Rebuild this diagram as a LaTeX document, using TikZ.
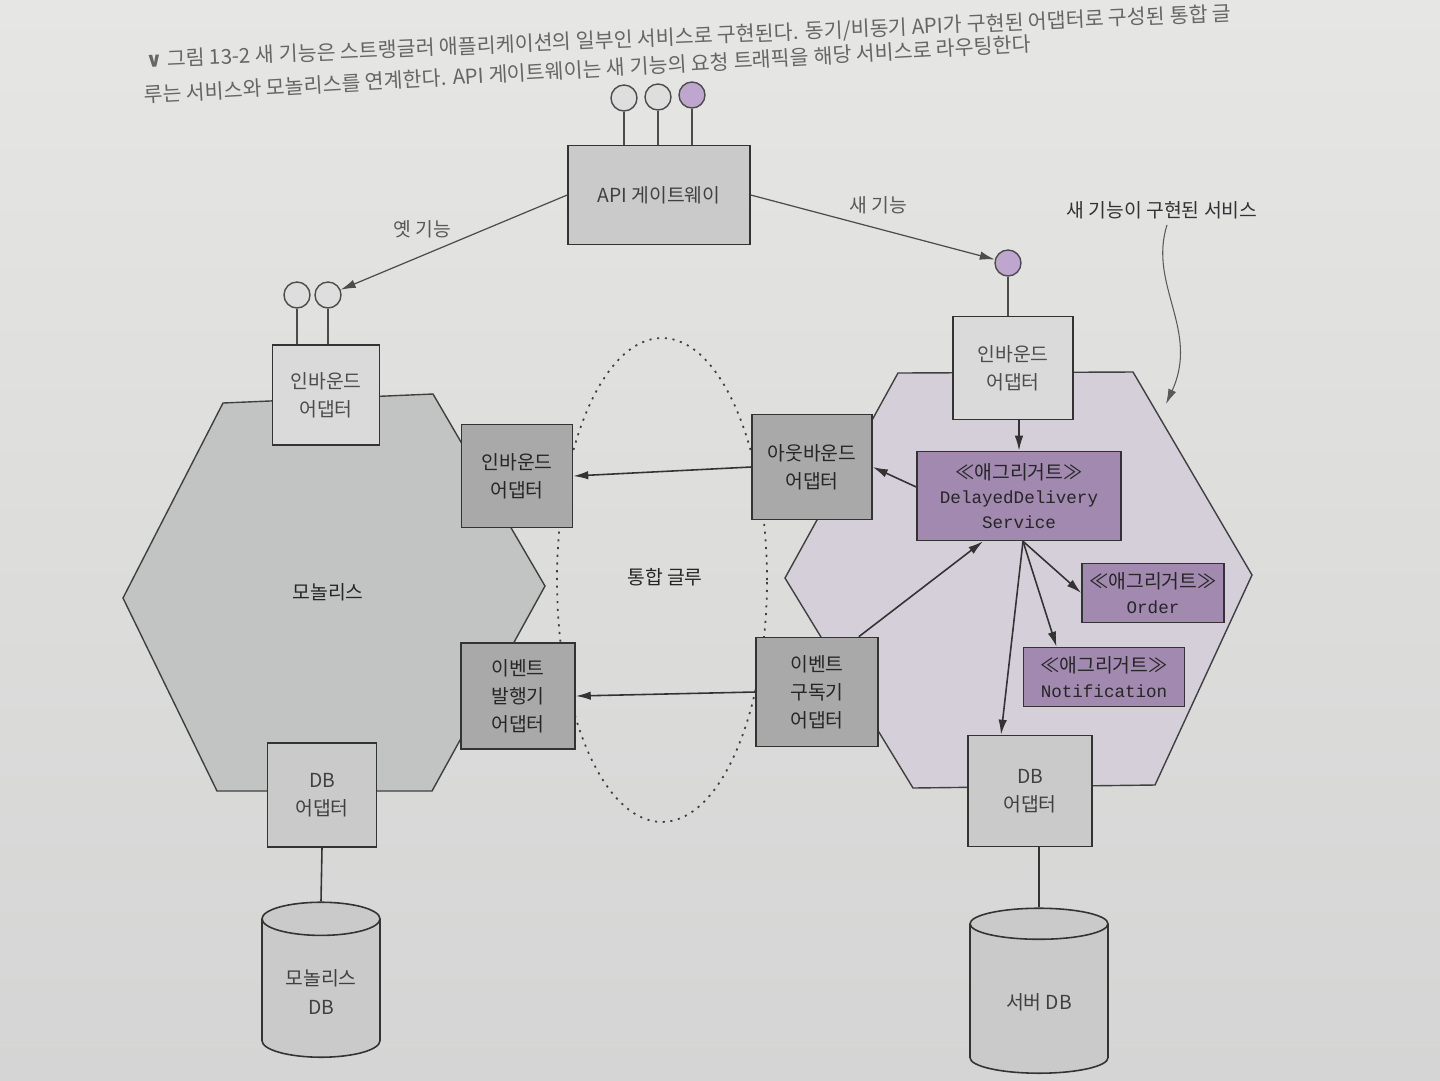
\documentclass[tikz,border=0pt]{standalone}
\usepackage{fontspec}
\setmainfont{Noto Sans CJK KR}
\newfontfamily\monofont{Liberation Mono}
\newfontfamily\symfont{DejaVu Sans}
\usetikzlibrary{arrows.meta,shapes.geometric}
\definecolor{papertop}{HTML}{E6E6E4}
\definecolor{paperbot}{HTML}{D4D5D4}
\definecolor{monofill}{HTML}{C2C4C4}
\definecolor{svcfill}{HTML}{D5CFDA}
\definecolor{boxlite}{HTML}{DADADA}
\definecolor{boxmid}{HTML}{C9CAC9}
\definecolor{adapterdark}{HTML}{A9A9A9}
\definecolor{aggpurple}{HTML}{A189AF}
\definecolor{portlite}{HTML}{DEDEDE}
\definecolor{portpurple}{HTML}{BEA6CE}
\newcommand{\aggtag}{\fontsize{11}{14}\selectfont}

\begin{document}
\begin{tikzpicture}[
    x=0.02cm, y=-0.02cm,
    >={Latex[length=0.3cm,width=0.17cm]},
    every node/.style={font=\fontsize{11}{16}\selectfont, text=black!85},
    box/.style={draw=black!80, line width=0.9pt, align=center, inner sep=2pt},
    litebox/.style={box, fill=boxlite, text=black!70},
    midbox/.style={box, fill=boxmid, text=black!75},
    adapter/.style={box, fill=adapterdark},
    agg/.style={box, fill=aggpurple, font=\fontsize{10}{14}\selectfont},
    port/.style={circle, draw=black!70, line width=0.8pt, minimum size=0.52cm, inner sep=0pt, fill=portlite},
    db/.style={cylinder, shape border rotate=90, draw=black!80, line width=0.9pt, fill=boxmid, aspect=0.4, align=center, text=black!75},
    conn/.style={draw=black!80, line width=0.9pt},
    arr/.style={conn, ->},
    lbl/.style={text=black!65},
    caption/.style={text=black!60, font=\fontsize{11.7}{13}\selectfont}
]
% paper
\fill[top color=papertop, bottom color=paperbot] (0,0) rectangle (1440,1080);
\useasboundingbox (0,0) rectangle (1440,1080);

% caption
\node[caption, anchor=base west, rotate=2.5] (cap1) at (140,68)
    {{\symfont\bfseries ∨} 그림 13-2 새 기능은 스트랭글러 애플리케이션의 일부인 서비스로 구현된다. 동기/비동기 API가 구현된 어댑터로 구성된 통합 글};
\node[caption, anchor=base west, rotate=3.3] (cap2) at (138,103)
    {루는 서비스와 모놀리스를 연계한다. API 게이트웨이는 새 기능의 요청 트래픽을 해당 서비스로 라우팅한다};

% hexagons and glue
\filldraw[fill=monofill, draw=black!75, line width=0.8pt]
    (123,598) -- (223,403) -- (433,394) -- (545,586) -- (432,791) -- (217,791) -- cycle;
\filldraw[fill=svcfill, draw=black!75, line width=0.8pt]
    (785,578) -- (898,373) -- (1133,372) -- (1252,575) -- (1155,785) -- (913,788) -- cycle;
\draw[black!75, line width=1pt, dash pattern=on 1.2pt off 3.2pt] (662,580) ellipse [x radius=2.1cm, y radius=4.84cm];

\node (monolbl) at (328,592) {모놀리스};
\node (gluelbl) at (665,577) {통합 글루};

% gateway
\node[midbox, minimum width=3.64cm, minimum height=1.98cm] (gw) at (659,195) {API 게이트웨이};
\node[port] (gport1) at (624,98) {};
\node[port] (gport2) at (658,97) {};
\node[port, fill=portpurple] (gport3) at (692,95) {};

% monolith side
\node[litebox, minimum width=2.14cm, minimum height=2cm] (linb) at (326,395) {인바운드\\어댑터};
\node[port] (lport1) at (297,295) {};
\node[port] (lport2) at (328,295) {};
\node[adapter, minimum width=2.22cm, minimum height=2.06cm] (lin) at (517,476) {인바운드\\어댑터};
\node[adapter, minimum width=2.28cm, minimum height=2.12cm] (lpub) at (518,696) {이벤트\\발행기\\어댑터};
\node[midbox, minimum width=2.18cm, minimum height=2.08cm] (ldba) at (322,795) {DB\\어댑터};
\node[db, minimum width=2.36cm, minimum height=3.1cm] (ldb) at (321,992) {모놀리스\\DB};

% service side
\node[litebox, minimum width=2.4cm, minimum height=2.06cm] (rinb) at (1013,368) {인바운드\\어댑터};
\node[port, fill=portpurple] (rport) at (1008,263) {};
\node[adapter, minimum width=2.4cm, minimum height=2.1cm] (rout) at (812,467) {아웃바운드\\어댑터};
\node[adapter, minimum width=2.44cm, minimum height=2.18cm] (rsub) at (817,692) {이벤트\\구독기\\어댑터};
\node[agg, minimum width=4.08cm, minimum height=1.78cm] (dds) at (1019,496)
    {{\aggtag ≪애그리거트≫}\\{\monofont DelayedDelivery}\\{\monofont Service}};
\node[agg, minimum width=2.84cm, minimum height=1.18cm] (order) at (1153,593)
    {{\aggtag ≪애그리거트≫}\\{\monofont Order}};
\node[agg, minimum width=3.22cm, minimum height=1.18cm] (notif) at (1104,677)
    {{\aggtag ≪애그리거트≫}\\{\monofont Notification}};
\node[midbox, minimum width=2.48cm, minimum height=2.22cm] (rdba) at (1030,791) {DB\\어댑터};
\node[db, minimum width=2.76cm, minimum height=3.3cm] (rdb) at (1039,1002) {서버 DB};

% labels
\node[lbl] (oldlbl) at (422,229) {옛 기능};
\node[lbl] (newlbl) at (878,205) {새 기능};
\node[text=black!80] (svcnote) at (1162,210) {새 기능이 구현된 서비스};
\coordinate (svctip) at (1166,404);

% port stems
\foreach \p in {gport1,gport2,gport3}
    \draw[conn, black!70] (\p) -- (\p |- gw.north);
\foreach \p in {lport1,lport2}
    \draw[conn, black!70] (\p) -- (\p |- linb.north);
\draw[conn, black!70] (rport) -- (rport |- rinb.north);

% routing
\draw[arr, black!70, line width=0.7pt] (gw.west) -- (lport2);
\draw[arr, black!70, line width=0.7pt] (gw.east) -- (rport);

% service internals
\draw[arr] (rinb.south -| dds.north) -- (dds.north);
\draw[arr] ([yshift=0.18cm]dds.west) -- (rout.east);
\draw[arr] ([xshift=-0.4cm]rsub.north east) -- ([xshift=-0.72cm]dds.south);
\draw[arr] ([xshift=0.08cm]dds.south) -- (order.west);
\draw[arr] ([xshift=0.08cm]dds.south) -- ([xshift=-0.95cm]notif.north);
\draw[arr] ([xshift=0.08cm]dds.south) -- ([xshift=-0.58cm]rdba.north);

% glue
\draw[arr] (rout.west) -- (lin.east);
\draw[arr] (rsub.west) -- (lpub.east);

% databases
\draw[conn] (ldba.south) -- (ldb.north);
\draw[conn] (rdb.north |- rdba.south) -- (rdb.north);

% note
\draw[arr, black!65, line width=0.6pt] ([xshift=0.1cm]svcnote.south)
    .. controls (1148,285) and (1200,330) .. (svctip);
\end{tikzpicture}
\end{document}
